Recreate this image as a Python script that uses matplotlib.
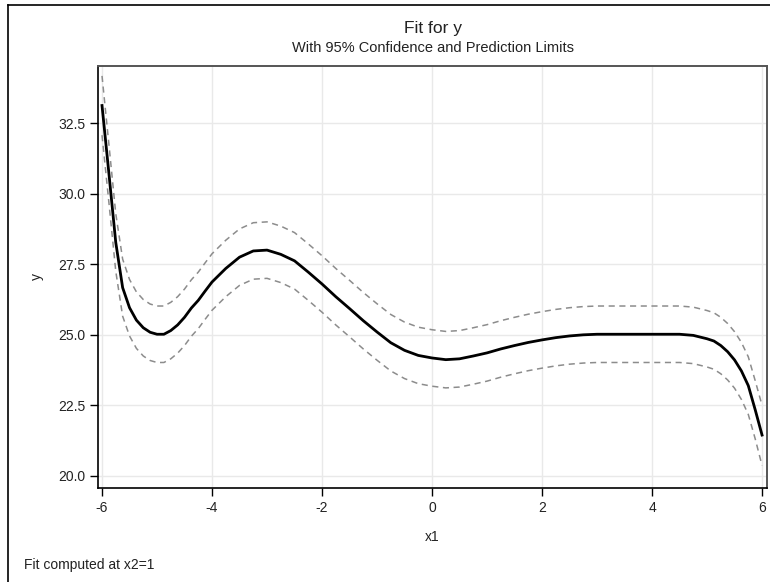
import matplotlib
matplotlib.use("Agg")
import matplotlib.pyplot as plt
from matplotlib.lines import Line2D

plt.rcParams['font.family'] = ['Liberation Sans', 'DejaVu Sans']

# ---- data ----
x1 = [-6.000, -5.875, -5.750, -5.625, -5.500, -5.375, -5.250, -5.125, -5.000,
      -4.875, -4.750, -4.625, -4.500, -4.375, -4.250, -4.125, -4.000,
      -3.75, -3.50, -3.25, -3.00, -2.75, -2.50, -2.25, -2.00, -1.75, -1.50,
      -1.25, -1.00, -0.75, -0.50, -0.25, 0.00, 0.25, 0.50, 0.75, 1.00,
      1.25, 1.50, 1.75, 2.00, 2.25, 2.50, 2.75, 3.00, 3.25, 3.50,
      3.75, 4.00, 4.25, 4.50, 4.75, 5.00,
      5.125, 5.250, 5.375, 5.500, 5.625, 5.750, 5.875, 6.000]
fit = [33.12, 30.72, 28.27, 26.67, 25.96, 25.52, 25.25, 25.09, 25.02,
       25.02, 25.15, 25.35, 25.62, 25.95, 26.22, 26.55, 26.87,
       27.35, 27.75, 27.97, 28.00, 27.85, 27.62, 27.22, 26.80, 26.35, 25.93,
       25.50, 25.10, 24.72, 24.45, 24.27, 24.18, 24.12, 24.15, 24.25, 24.36,
       24.50, 24.62, 24.73, 24.82, 24.90, 24.96, 25.00, 25.02, 25.02, 25.02,
       25.02, 25.02, 25.02, 25.02, 24.98, 24.86,
       24.78, 24.62, 24.40, 24.11, 23.72, 23.20, 22.35, 21.45]
upper = [34.17, 31.75, 29.29, 27.68, 26.96, 26.52, 26.25, 26.09, 26.02,
         26.02, 26.15, 26.35, 26.62, 26.95, 27.22, 27.55, 27.87,
         28.35, 28.75, 28.97, 29.00, 28.85, 28.62, 28.22, 27.80, 27.35, 26.93,
         26.50, 26.10, 25.72, 25.45, 25.27, 25.18, 25.12, 25.15, 25.25, 25.36,
         25.50, 25.62, 25.73, 25.82, 25.90, 25.96, 26.00, 26.02, 26.02, 26.02,
         26.02, 26.02, 26.02, 26.02, 25.98, 25.86,
         25.78, 25.62, 25.40, 25.11, 24.73, 24.22, 23.38, 22.50]
lower = [32.07, 29.69, 27.25, 25.66, 24.96, 24.52, 24.25, 24.09, 24.02,
         24.02, 24.15, 24.35, 24.62, 24.95, 25.22, 25.55, 25.87,
         26.35, 26.75, 26.97, 27.00, 26.85, 26.62, 26.22, 25.80, 25.35, 24.93,
         24.50, 24.10, 23.72, 23.45, 23.27, 23.18, 23.12, 23.15, 23.25, 23.36,
         23.50, 23.62, 23.73, 23.82, 23.90, 23.96, 24.00, 24.02, 24.02, 24.02,
         24.02, 24.02, 24.02, 24.02, 23.98, 23.86,
         23.78, 23.62, 23.40, 23.11, 22.71, 22.18, 21.32, 20.37]
xticks = [-6, -4, -2, 0, 2, 4, 6]
yticks = [20.0, 22.5, 25.0, 27.5, 30.0, 32.5]

fig = plt.figure(figsize=(7.70, 5.82), dpi=100)
ax = fig.add_axes([98/770, 1 - 488/582, (767 - 98)/770, (488 - 66)/582])

ax.plot(x1, upper, color='#8c8c8c', lw=1.1, ls=(0, (4, 3)), zorder=3)
ax.plot(x1, lower, color='#8c8c8c', lw=1.1, ls=(0, (4, 3)), zorder=3)
ax.plot(x1, fit, color='black', lw=2.0, zorder=4, solid_joinstyle='round')

ax.set_xlim(-6.073, 6.09)
ax.set_ylim(19.575, 34.52)
ax.set_xticks(xticks)
ax.set_xticklabels([f"{t:g}" for t in xticks])
ax.set_yticks(yticks)
ax.set_yticklabels([f"{t:.1f}" for t in yticks])
ax.grid(True, color='#e9e9e9', lw=1.0)
ax.set_axisbelow(True)
ax.tick_params(axis='both', labelsize=10, length=6, width=1, color='black',
               labelcolor='#222222', pad=3)
for s in ['left', 'bottom']:
    ax.spines[s].set_color('black')
    ax.spines[s].set_linewidth(1.2)
for s in ['top', 'right']:
    ax.spines[s].set_color('#555555')
    ax.spines[s].set_linewidth(1.4)

ax.set_xlabel('x1', fontsize=10, color='#222222', labelpad=11)
ax.set_ylabel('y', fontsize=10, color='#222222', labelpad=10)

fig.text(432.5/770, 1 - 29/582, 'Fit for y', ha='center', va='center',
         fontsize=12.5, color='#222222')
fig.text(432.5/770, 1 - 48/582, 'With 95% Confidence and Prediction Limits',
         ha='center', va='center', fontsize=10.5, color='#222222')
fig.text(24/770, 1 - 565/582, 'Fit computed at x2=1', ha='left', va='center',
         fontsize=10, color='#222222')

# outer frame (left and top edges visible)
fig.add_artist(Line2D([7.5/770, 7.5/770], [0, 1 - 5/582], transform=fig.transFigure,
                      color='black', lw=1.2))
fig.add_artist(Line2D([7.5/770, 1], [1 - 5/582, 1 - 5/582], transform=fig.transFigure,
                      color='black', lw=1.2))

fig.savefig('out.png', dpi=100)
